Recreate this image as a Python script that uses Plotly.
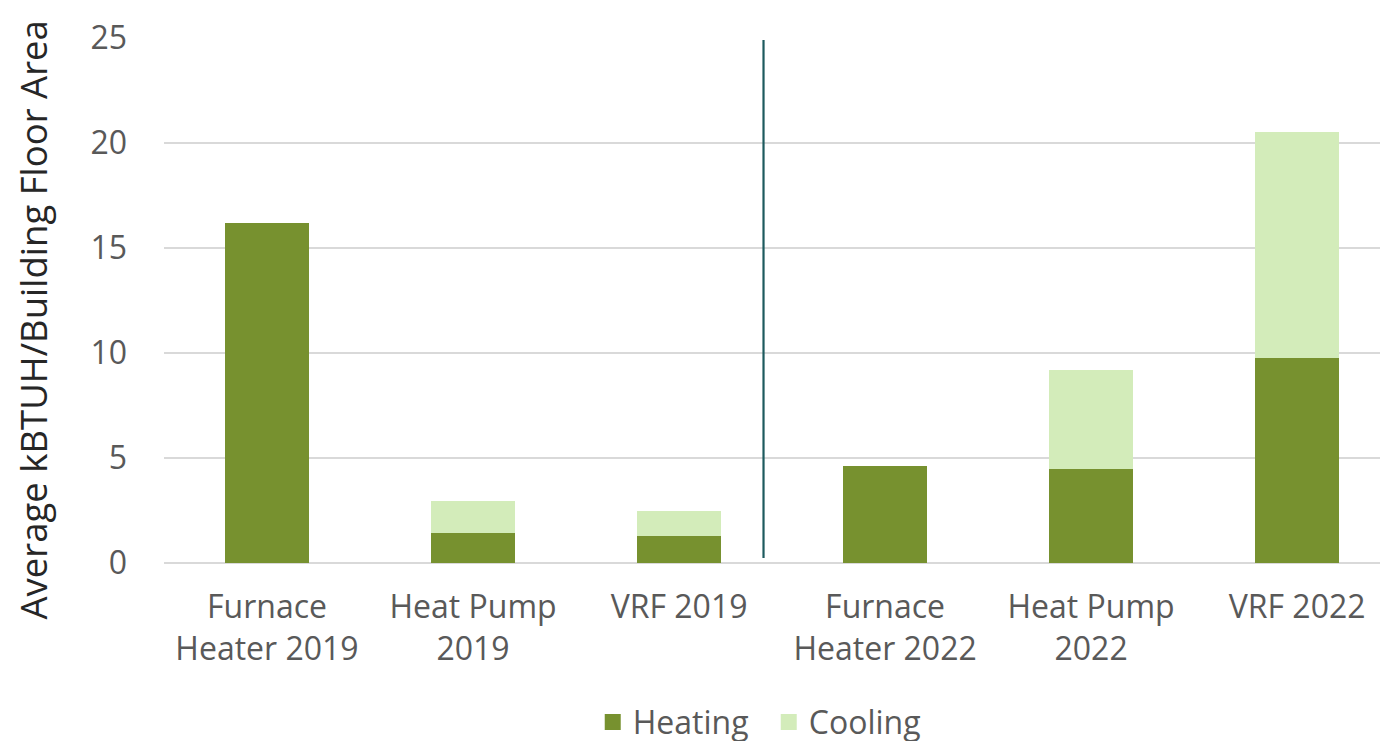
import plotly.graph_objects as go

categories = ["Furnace<br>Heater 2019", "Heat Pump<br>2019", "VRF 2019",
              "Furnace<br>Heater 2022", "Heat Pump<br>2022", "VRF 2022"]
heating = [16.2, 1.45, 1.30, 4.62, 4.48, 9.78]
cooling = [0.0, 1.50, 1.16, 0.0, 4.71, 10.76]
y_ticks = [0, 5, 10, 15, 20, 25]

HEAT = "#77912f"
COOL = "#d3ecba"

x_idx = list(range(len(categories)))
fig = go.Figure()
fig.add_trace(go.Bar(x=x_idx, y=heating, name="Heating", showlegend=False,
                     marker=dict(color=HEAT, line=dict(width=0)), width=0.41))
fig.add_trace(go.Bar(x=x_idx, y=cooling, name="Cooling", showlegend=False,
                     marker=dict(color=COOL, line=dict(width=0)), width=0.41))
# legend entries with larger square swatches
for name, col in [("Heating", HEAT), ("Cooling", COOL)]:
    fig.add_trace(go.Scatter(x=[None], y=[None], mode="markers", name=name,
                             marker=dict(symbol="square", size=16, color=col,
                                         line=dict(width=0))))

fig.add_shape(type="line", xref="x", yref="y", x0=2.41, x1=2.41, y0=0.24, y1=24.9,
              line=dict(color="#1d5a5e", width=2.2))

fig.add_annotation(text="Average kBTUH/Building Floor Area", textangle=-90,
                   xref="paper", yref="paper", x=-0.1063, y=0.462,
                   xanchor="center", yanchor="middle", showarrow=False,
                   font=dict(size=36.5, color="#262626", family="Open Sans"))

fig.update_layout(
    width=1388, height=741,
    barmode="stack",
    plot_bgcolor="white", paper_bgcolor="white",
    margin=dict(l=156, r=0, t=30, b=186, autoexpand=False),
    font=dict(family="Open Sans", color="#595959"),
    showlegend=True,
    legend=dict(orientation="h", x=0.348, xanchor="left", y=-0.303, yanchor="middle",
                font=dict(size=32, color="#595959"), traceorder="normal",
                itemsizing="trace", entrywidth=131),
    xaxis=dict(range=[-0.5, 5.48], tickmode="array", tickvals=x_idx,
               ticktext=categories, tickfont=dict(size=32, color="#595959"),
               showgrid=False, zeroline=False, showline=False, ticks="",
               ticklabelstandoff=22, automargin=False),
    yaxis=dict(range=[0, 25], tickvals=y_ticks, tickfont=dict(size=32, color="#595959"),
               gridcolor="#d9d9d9", gridwidth=1.5, zeroline=True, zerolinecolor="#d9d9d9",
               zerolinewidth=1.5, ticks="", ticklabelstandoff=36, automargin=False),
)

fig.write_html("out.html")
